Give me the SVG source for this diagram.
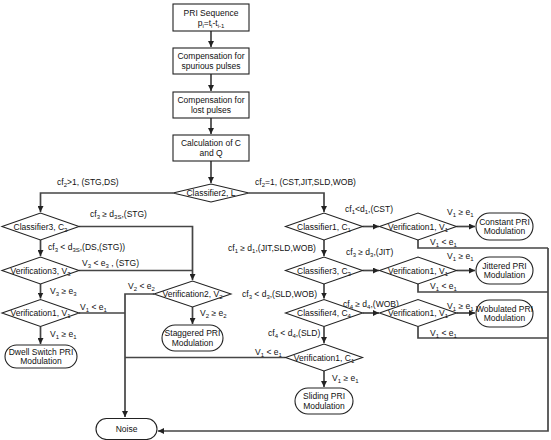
<svg xmlns="http://www.w3.org/2000/svg" width="551" height="440" viewBox="0 0 551 440">
<style>
text{font-family:"Liberation Sans",Arial,sans-serif;font-size:8.5px;fill:#111}
.c{text-anchor:middle}
.sb{font-size:6px}
.n{fill:#fff;stroke:#222;stroke-width:1.1}
.e{fill:none;stroke:#454545;stroke-width:1.7}
.a{marker-end:url(#ah)}
</style>
<defs>
<marker id="ah" markerUnits="userSpaceOnUse" markerWidth="7" markerHeight="6" refX="6" refY="3" orient="auto">
<path d="M0,0 L6,3 L0,6 z" fill="#222"/>
</marker>
</defs>
<rect width="551" height="440" fill="#fff"/>
<g id="connectors">
<path class="e a" d="M211,31 V47"/>
<path class="e a" d="M211,74 V91"/>
<path class="e a" d="M211,118 V134"/>
<path class="e a" d="M211,161 V183"/>
<path class="e a" d="M173,193 H40.5 V212"/>
<path class="e a" d="M249,193 H324 V212"/>
<path class="e a" d="M40.5,240 V256"/>
<path class="e a" d="M40.5,284 V298.5"/>
<path class="e a" d="M40.5,326.5 V344"/>
<path class="e a" d="M79,226.5 H192.5 V280"/>
<path class="e" d="M79,270.5 H192.5"/>
<path class="e a" d="M192.5,307 V324"/>
<path class="e a" d="M154,294 H125 V417"/>
<path class="e" d="M79,313 H125"/>
<path class="e" d="M285.5,357.5 H125"/>
<path class="e a" d="M362.5,226.5 H379"/>
<path class="e a" d="M456.5,226.5 H475"/>
<path class="e a" d="M324,240 V256"/>
<path class="e a" d="M362.5,270.5 H379"/>
<path class="e a" d="M456.5,270.5 H475"/>
<path class="e a" d="M324,284 V298.5"/>
<path class="e a" d="M362.5,313 H379"/>
<path class="e a" d="M456.5,313 H475"/>
<path class="e a" d="M324,326.5 V343"/>
<path class="e a" d="M324,371 V387"/>
<path class="e" d="M418,240 V248 H548"/>
<path class="e" d="M418,284 V292 H548"/>
<path class="e" d="M418,326.5 V338 H548"/>
<path class="e a" d="M548,248 V431 H158"/>
</g>
<g id="labels">
<text x="57" y="185">cf<tspan class="sb" dy="2">2</tspan><tspan dy="-2">&gt;1, (STG,DS)</tspan></text>
<text x="255" y="185">cf<tspan class="sb" dy="2">2</tspan><tspan dy="-2">=1, (CST,JIT,SLD,WOB)</tspan></text>
<text x="90" y="217">cf<tspan class="sb" dy="2">3</tspan><tspan dy="-2"> ≥ d</tspan><tspan class="sb" dy="2">3S</tspan><tspan dy="-2">,(STG)</tspan></text>
<text x="48" y="250">cf<tspan class="sb" dy="2">3</tspan><tspan dy="-2"> &lt; d</tspan><tspan class="sb" dy="2">3S</tspan><tspan dy="-2">,(DS,(STG))</tspan></text>
<text x="82" y="266">V<tspan class="sb" dy="2">3</tspan><tspan dy="-2"> &lt; e</tspan><tspan class="sb" dy="2">3</tspan><tspan dy="-2"> , (STG)</tspan></text>
<text x="50" y="294">V<tspan class="sb" dy="2">3</tspan><tspan dy="-2"> ≥ e</tspan><tspan class="sb" dy="2">3</tspan></text>
<text x="128" y="289">V<tspan class="sb" dy="2">2</tspan><tspan dy="-2"> &lt; e</tspan><tspan class="sb" dy="2">2</tspan></text>
<text x="80" y="310">V<tspan class="sb" dy="2">1</tspan><tspan dy="-2"> &lt; e</tspan><tspan class="sb" dy="2">1</tspan></text>
<text x="200" y="316">V<tspan class="sb" dy="2">2</tspan><tspan dy="-2"> ≥ e</tspan><tspan class="sb" dy="2">2</tspan></text>
<text x="50" y="337">V<tspan class="sb" dy="2">1</tspan><tspan dy="-2"> ≥ e</tspan><tspan class="sb" dy="2">1</tspan></text>
<text x="345" y="212">cf<tspan class="sb" dy="2">1</tspan><tspan dy="-2">&lt;d</tspan><tspan class="sb" dy="2">1</tspan><tspan dy="-2">,(CST)</tspan></text>
<text x="228" y="251">cf<tspan class="sb" dy="2">1</tspan><tspan dy="-2"> ≥ d</tspan><tspan class="sb" dy="2">1</tspan><tspan dy="-2">,(JIT,SLD,WOB)</tspan></text>
<text x="346" y="255">cf<tspan class="sb" dy="2">3</tspan><tspan dy="-2"> ≥ d</tspan><tspan class="sb" dy="2">3</tspan><tspan dy="-2">,(JIT)</tspan></text>
<text x="242" y="297">cf<tspan class="sb" dy="2">3</tspan><tspan dy="-2"> &lt; d</tspan><tspan class="sb" dy="2">3</tspan><tspan dy="-2">,(SLD,WOB)</tspan></text>
<text x="343" y="307">cf<tspan class="sb" dy="2">4</tspan><tspan dy="-2"> ≥ d</tspan><tspan class="sb" dy="2">4</tspan><tspan dy="-2">,(WOB)</tspan></text>
<text x="268" y="336">cf<tspan class="sb" dy="2">4</tspan><tspan dy="-2"> &lt; d</tspan><tspan class="sb" dy="2">4</tspan><tspan dy="-2">,(SLD)</tspan></text>
<text x="255" y="355">V<tspan class="sb" dy="2">1</tspan><tspan dy="-2"> &lt; e</tspan><tspan class="sb" dy="2">1</tspan></text>
<text x="332" y="381">V<tspan class="sb" dy="2">1</tspan><tspan dy="-2"> ≥ e</tspan><tspan class="sb" dy="2">1</tspan></text>
<text x="447" y="214.5">V<tspan class="sb" dy="2">1</tspan><tspan dy="-2"> ≥ e</tspan><tspan class="sb" dy="2">1</tspan></text>
<text x="447" y="258.5">V<tspan class="sb" dy="2">1</tspan><tspan dy="-2"> ≥ e</tspan><tspan class="sb" dy="2">1</tspan></text>
<text x="447" y="309">V<tspan class="sb" dy="2">1</tspan><tspan dy="-2"> ≥ e</tspan><tspan class="sb" dy="2">1</tspan></text>
<text x="430" y="245">V<tspan class="sb" dy="2">1</tspan><tspan dy="-2"> &lt; e</tspan><tspan class="sb" dy="2">1</tspan></text>
<text x="430" y="289">V<tspan class="sb" dy="2">1</tspan><tspan dy="-2"> &lt; e</tspan><tspan class="sb" dy="2">1</tspan></text>
<text x="430" y="336">V<tspan class="sb" dy="2">1</tspan><tspan dy="-2"> &lt; e</tspan><tspan class="sb" dy="2">1</tspan></text>
</g>
<g id="pri-seq"><rect class="n" x="173" y="4" width="76" height="27"/>
<text class="c" x="211" y="15.5">PRI Sequence</text>
<text class="c" x="211" y="25.5">p<tspan class="sb" dy="2">i</tspan><tspan dy="-2">=t</tspan><tspan class="sb" dy="2">i</tspan><tspan dy="-2">-t</tspan><tspan class="sb" dy="2">i-1</tspan></text></g>
<g id="comp-spurious"><rect class="n" x="173" y="48" width="76" height="26"/>
<text class="c" x="211" y="59">Compensation for</text><text class="c" x="211" y="69">spurious pulses</text></g>
<g id="comp-lost"><rect class="n" x="173" y="92" width="76" height="26"/>
<text class="c" x="211" y="103">Compensation for</text><text class="c" x="211" y="113">lost pulses</text></g>
<g id="calc"><rect class="n" x="173" y="135" width="76" height="26"/>
<text class="c" x="211" y="146">Calculation of C</text><text class="c" x="211" y="156">and Q</text></g>
<g id="classifier2"><path class="n" d="M173,193 L211,184 L249,193 L211,202 Z"/>
<text class="c" x="211" y="196">Classifier2, L</text></g>
<g id="classifier3-left"><path class="n" d="M2,226.5 L40.5,213 L79,226.5 L40.5,240 Z"/>
<text class="c" x="40.5" y="229.5">Classifier3, C<tspan class="sb" dy="2">3</tspan></text></g>
<g id="verification3"><path class="n" d="M2,270.5 L40.5,257 L79,270.5 L40.5,284 Z"/>
<text class="c" x="40.5" y="273.5">Verification3, V<tspan class="sb" dy="2">3</tspan></text></g>
<g id="verification1-left"><path class="n" d="M2,313 L40.5,299.5 L79,313 L40.5,326.5 Z"/>
<text class="c" x="40.5" y="316">Verification1, V<tspan class="sb" dy="2">1</tspan></text></g>
<g id="dwell"><rect class="n" x="5" y="345" width="72" height="23" rx="11.5"/>
<text class="c" x="41" y="354.5">Dwell Switch PRI</text><text class="c" x="41" y="364">Modulation</text></g>
<g id="verification2"><path class="n" d="M154,294 L192.5,281 L231,294 L192.5,307 Z"/>
<text class="c" x="192.5" y="297">Verification2, V<tspan class="sb" dy="2">2</tspan></text></g>
<g id="staggered"><rect class="n" x="162" y="325" width="61" height="26" rx="13"/>
<text class="c" x="192.5" y="336">Staggered PRI</text><text class="c" x="192.5" y="345.5">Modulation</text></g>
<g id="classifier1"><path class="n" d="M285.5,226.5 L324,213 L362.5,226.5 L324,240 Z"/>
<text class="c" x="324" y="229.5">Classifier1, C<tspan class="sb" dy="2">1</tspan></text></g>
<g id="verification1-a"><path class="n" d="M379.5,226.5 L418,213 L456.5,226.5 L418,240 Z"/>
<text class="c" x="418" y="229.5">Verification1, V<tspan class="sb" dy="2">1</tspan></text></g>
<g id="constant"><rect class="n" x="476" y="213" width="57" height="27" rx="13.5"/>
<text class="c" x="504.5" y="224.5">Constant PRI</text><text class="c" x="504.5" y="234">Modulation</text></g>
<g id="classifier3-right"><path class="n" d="M285.5,270.5 L324,257 L362.5,270.5 L324,284 Z"/>
<text class="c" x="324" y="273.5">Classifier3, C<tspan class="sb" dy="2">3</tspan></text></g>
<g id="verification1-b"><path class="n" d="M379.5,270.5 L418,257 L456.5,270.5 L418,284 Z"/>
<text class="c" x="418" y="273.5">Verification1, V<tspan class="sb" dy="2">1</tspan></text></g>
<g id="jittered"><rect class="n" x="476" y="257" width="57" height="27" rx="13.5"/>
<text class="c" x="504.5" y="268.5">Jittered PRI</text><text class="c" x="504.5" y="278">Modulation</text></g>
<g id="classifier4"><path class="n" d="M285.5,313 L324,299.5 L362.5,313 L324,326.5 Z"/>
<text class="c" x="324" y="316">Classifier4, C<tspan class="sb" dy="2">4</tspan></text></g>
<g id="verification1-c"><path class="n" d="M379.5,313 L418,299.5 L456.5,313 L418,326.5 Z"/>
<text class="c" x="418" y="316">Verification1, V<tspan class="sb" dy="2">1</tspan></text></g>
<g id="wobulated"><rect class="n" x="476" y="300" width="57" height="27" rx="13.5"/>
<text class="c" x="504.5" y="311.5">Wobulated PRI</text><text class="c" x="504.5" y="321">Modulation</text></g>
<g id="verification1-d"><path class="n" d="M285.5,357.5 L324,344 L362.5,357.5 L324,371 Z"/>
<text class="c" x="324" y="360.5">Verification1, C<tspan class="sb" dy="2">1</tspan></text></g>
<g id="sliding"><rect class="n" x="295" y="388" width="58" height="26" rx="13"/>
<text class="c" x="324" y="399">Sliding PRI</text><text class="c" x="324" y="408.5">Modulation</text></g>
<g id="noise"><rect class="n" x="96" y="418.5" width="61" height="21" rx="10.5"/>
<text class="c" x="126.5" y="432">Noise</text></g>
</svg>
